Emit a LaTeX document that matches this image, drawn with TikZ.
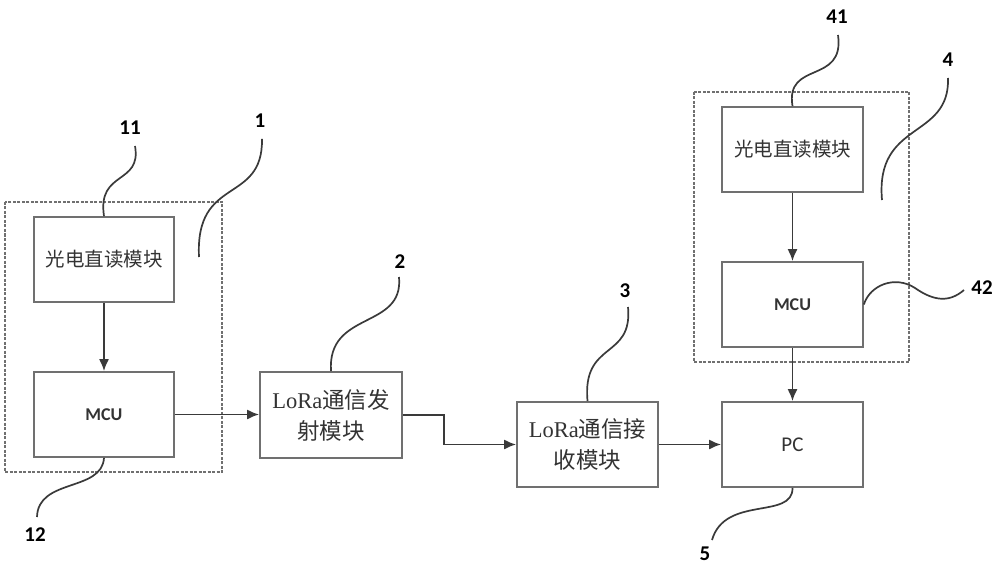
\documentclass[tikz,border=0pt]{standalone}
\usepackage{fontspec}
\setmainfont{Liberation Serif}
\newfontfamily\cjk{Noto Sans CJK SC}
\newfontfamily\calib{Carlito}
\usetikzlibrary{arrows.meta}
\definecolor{boxgray}{HTML}{707070}
\definecolor{linegray}{HTML}{3A3A3A}
\definecolor{txtgray}{HTML}{333333}
\tikzset{
  blk/.style={draw=boxgray, line width=1.7pt, fill=white, minimum width=140pt, minimum height=85pt, inner sep=0pt, text=txtgray, align=center},
  dashbox/.style={draw=boxgray, line width=1.3pt, dash pattern=on 3pt off 1.5pt},
  flow/.style={draw=linegray, line width=1.8pt, -{Latex[length=12pt,width=10pt]}},
  leader/.style={draw=linegray, line width=1.7pt},
  num/.style={font=\calib\fontsize{21}{21}\selectfont\bfseries, text=black, inner sep=0pt},
  cn/.style={font=\cjk\fontsize{19.5}{19.5}\selectfont},
  lat/.style={font=\calib\fontsize{18}{18}\selectfont\bfseries},
  lora/.style={font=\fontsize{22.5}{31}\selectfont},
}
\begin{document}
\begin{tikzpicture}[x=1pt,y=-1pt]
\useasboundingbox (0,0) rectangle (1000,569);
% dashed groups
\draw[dashbox] (5,202) rectangle (222,472);
\draw[dashbox] (694,92) rectangle (909,362);
% blocks
\node[blk, cn] (b11) at (104,259.5) {光电直读模块};
\node[blk, lat] (b12) at (104,414.5) {MCU};
\node[blk, lora, minimum width=142pt, minimum height=86pt] (b2) at (331,415) {LoRa{\cjk 通信发}\\{\cjk 射模块}};
\node[blk, lora, minimum width=141pt] (b3) at (587.5,444.5) {LoRa{\cjk 通信接}\\{\cjk 收模块}};
\node[blk, cn, minimum width=141pt] (b41) at (792.5,149.5) {光电直读模块};
\node[blk, lat, minimum width=141pt] (b42) at (792.5,304.5) {MCU};
\node[blk, font=\calib\fontsize{21}{21}\selectfont, minimum width=141pt] (pc) at (792.5,444.5) {PC};
% flow arrows
\draw[flow] (b11.south) -- (b12.north);
\draw[flow] (b12.east) -- (b12.east -| b2.west);
\draw[flow] (b2.east) -- ++(41,0) |- (b3.west);
\draw[flow] (b3.east) -- (pc.west);
\draw[flow] (b41.south) -- (b42.north);
\draw[flow] (b42.south) -- (pc.north);
% labels
\node[num] (n11) at (130,128) {11};
\node[num] (n1) at (260,121) {1};
\node[num] (n12) at (35,535) {12};
\node[num] (n2) at (400,262) {2};
\node[num] (n3) at (625,291) {3};
\node[num] (n5) at (705,554) {5};
\node[num] (n41) at (837,17) {41};
\node[num] (n4) at (948,60) {4};
\node[num] (n42) at (982,288) {42};
\coordinate (e1) at (199,257);
\coordinate (e4) at (882,200);
% leader curves
\draw[leader] (135,146) .. controls (142,185) and (97,170) .. (b11.north);
\draw[leader] (262,139) .. controls (263,205) and (195,175) .. (e1);
\draw[leader] (37,517) .. controls (38,478) and (102,492) .. (b12.south);
\draw[leader] (399,277) .. controls (404,330) and (327,310) .. (b2.north);
\draw[leader] (628,307) .. controls (633,360) and (582,340) .. (b3.north);
\draw[leader] (712,540) .. controls (725,495) and (793,520) .. (pc.south);
\draw[leader] (838,35) .. controls (845,85) and (785,60) .. (b41.north);
\draw[leader] (948,78) .. controls (950,140) and (875,120) .. (e4);
\draw[leader] (b42.east) .. controls (870,285) and (895,275) .. (915,288) .. controls (935,302) and (950,302) .. (964,290);
\end{tikzpicture}
\end{document}
